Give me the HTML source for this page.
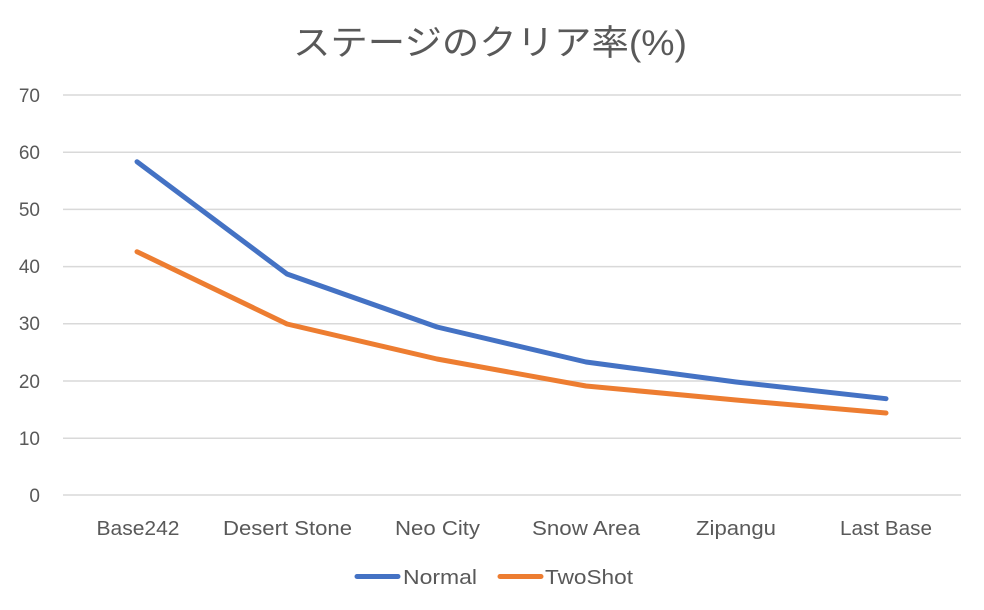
<!DOCTYPE html>
<html><head><meta charset="utf-8"><style>
html,body{margin:0;padding:0;background:#fff;}
svg{display:block;}
text{font-family:"Liberation Sans","Noto Sans CJK JP",sans-serif;fill:#595959;}
</style></head><body>
<svg width="984" height="610" viewBox="0 0 984 610" xmlns="http://www.w3.org/2000/svg">
<rect width="984" height="610" fill="#fff"/>
<text x="490" y="55" font-size="35" text-anchor="middle" textLength="394" lengthAdjust="spacingAndGlyphs">ステージのクリア率(%)</text>
<g stroke="#D9D9D9" stroke-width="1.5">
<line x1="63" y1="95" x2="961" y2="95"/>
<line x1="63" y1="152.2" x2="961" y2="152.2"/>
<line x1="63" y1="209.4" x2="961" y2="209.4"/>
<line x1="63" y1="266.6" x2="961" y2="266.6"/>
<line x1="63" y1="323.8" x2="961" y2="323.8"/>
<line x1="63" y1="381" x2="961" y2="381"/>
<line x1="63" y1="438.2" x2="961" y2="438.2"/>
<line x1="63" y1="495" x2="961" y2="495"/>
</g>
<g font-size="19" text-anchor="end">
<text x="40" y="102">70</text>
<text x="40" y="159">60</text>
<text x="40" y="216">50</text>
<text x="40" y="273">40</text>
<text x="40" y="330">30</text>
<text x="40" y="388">20</text>
<text x="40" y="445">10</text>
<text x="40" y="502">0</text>
</g>
<g font-size="20" text-anchor="middle">
<text x="138" y="535" textLength="83" lengthAdjust="spacingAndGlyphs">Base242</text>
<text x="287.5" y="535" textLength="129" lengthAdjust="spacingAndGlyphs">Desert Stone</text>
<text x="437.5" y="535" textLength="85" lengthAdjust="spacingAndGlyphs">Neo City</text>
<text x="586" y="535" textLength="108" lengthAdjust="spacingAndGlyphs">Snow Area</text>
<text x="736" y="535" textLength="80" lengthAdjust="spacingAndGlyphs">Zipangu</text>
<text x="886" y="535" textLength="92" lengthAdjust="spacingAndGlyphs">Last Base</text>
</g>
<polyline fill="none" stroke="#ED7D31" stroke-width="5" stroke-linejoin="round" stroke-linecap="round"
 points="137,251.7 287,324 437,359 586,386 736,400 886,413"/>
<polyline fill="none" stroke="#4472C4" stroke-width="5" stroke-linejoin="round" stroke-linecap="round"
 points="137,161.7 287,274 437,327 586,362 736,382 886,398.7"/>
<line x1="357" y1="576.5" x2="398" y2="576.5" stroke="#4472C4" stroke-width="5" stroke-linecap="round"/>
<text x="403" y="584" font-size="20" textLength="74" lengthAdjust="spacingAndGlyphs">Normal</text>
<line x1="500" y1="576.5" x2="541" y2="576.5" stroke="#ED7D31" stroke-width="5" stroke-linecap="round"/>
<text x="545" y="584" font-size="20" textLength="88" lengthAdjust="spacingAndGlyphs">TwoShot</text>
</svg>
</body></html>
